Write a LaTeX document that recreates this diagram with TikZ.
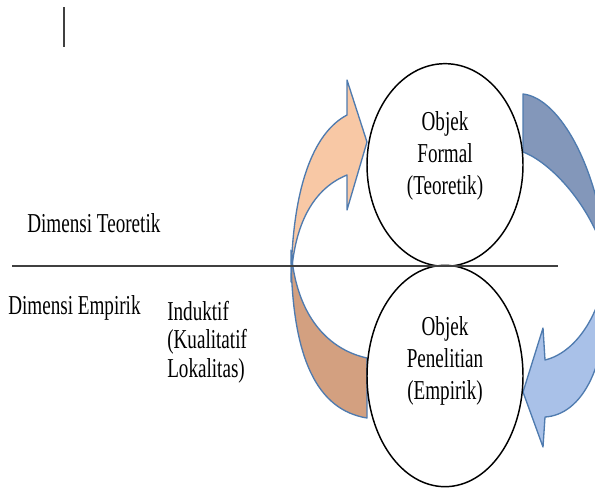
\documentclass[tikz,border=0pt]{standalone}
\usepackage{fontspec}
\setmainfont{Liberation Serif}[FakeStretch=0.7]
\usetikzlibrary{shapes.geometric}

\definecolor{peach}{HTML}{F8C8A5}
\definecolor{clay}{HTML}{D3A080}
\definecolor{slateband}{HTML}{8397BA}
\definecolor{skyband}{HTML}{A9C1E8}
\definecolor{bandline}{HTML}{4F7BAF}
\definecolor{axisgray}{HTML}{404040}

\begin{document}
\begin{tikzpicture}[x=0.75pt,y=-0.75pt,
    dimtext/.style={inner sep=0pt,font=\fontsize{20.5}{21.5}\selectfont},
    ringtext/.style={inner sep=0pt,align=center,font=\fontsize{20.5}{24}\selectfont},
    ring/.style={ellipse,draw=black,line width=1.1pt,fill=white,inner sep=0pt,minimum width=117pt},
    bandshape/.style={draw=bandline,line width=1pt,line join=round}]
    \clip (0,0) rectangle (595,489);

    % left curved arrow, back part first
    \draw[bandshape,fill=clay] (367,358) -- (367,418) .. controls (318,410) and (291,360) .. (291,250)
        .. controls (296,318) and (330,350) .. (367,358) -- cycle;
    \draw[bandshape,fill=peach] (291,282) .. controls (292,188) and (313,133) .. (347,115)
        -- (347,80) -- (367,142) -- (347,210) -- (347,175)
        .. controls (310,190) and (293,230) .. (291,282) -- cycle;

    % right curved arrow
    \draw[bandshape,fill=slateband] (523,94) .. controls (560,98) and (600,170) .. (607,262)
        .. controls (592,205) and (550,162) .. (523,152) -- cycle;
    \draw[bandshape,fill=skyband] (607,262) .. controls (603,310) and (578,352) .. (545,360)
        -- (543,328) -- (523,392) -- (543,447) -- (545,417)
        .. controls (580,415) and (612,370) .. (607,262) -- cycle;

    \node[ring,minimum height=152pt] (formal) at (445,165) {};
    \node[ring,minimum height=166pt] (penelitian) at (445,376) {};
    \node[ringtext,anchor=north] (formaltext) at (445,111) {Objek\\Formal\\(Teoretik)};
    \node[ringtext,anchor=north] (penelitiantext) at (445,316) {Objek\\Penelitian\\(Empirik)};

    \coordinate (axiswest) at (12,266);
    \coordinate (axiseast) at (558,266);
    \draw[axisgray,line width=1.8pt] (axiswest) -- (axiseast);

    \coordinate (bartop) at (64,7);
    \coordinate (barbottom) at (64,47);
    \draw[axisgray,line width=1.4pt] (bartop) -- (barbottom);

    \node[dimtext,anchor=base west] (teoretik) at (27,232) {Dimensi Teoretik};
    \node[dimtext,anchor=base west] (empirik) at (8,314) {Dimensi Empirik};
    \node[dimtext,anchor=west,align=left] (induktif) at (167,342) {Induktif\\(Kualitatif\\Lokalitas)};
\end{tikzpicture}
\end{document}
